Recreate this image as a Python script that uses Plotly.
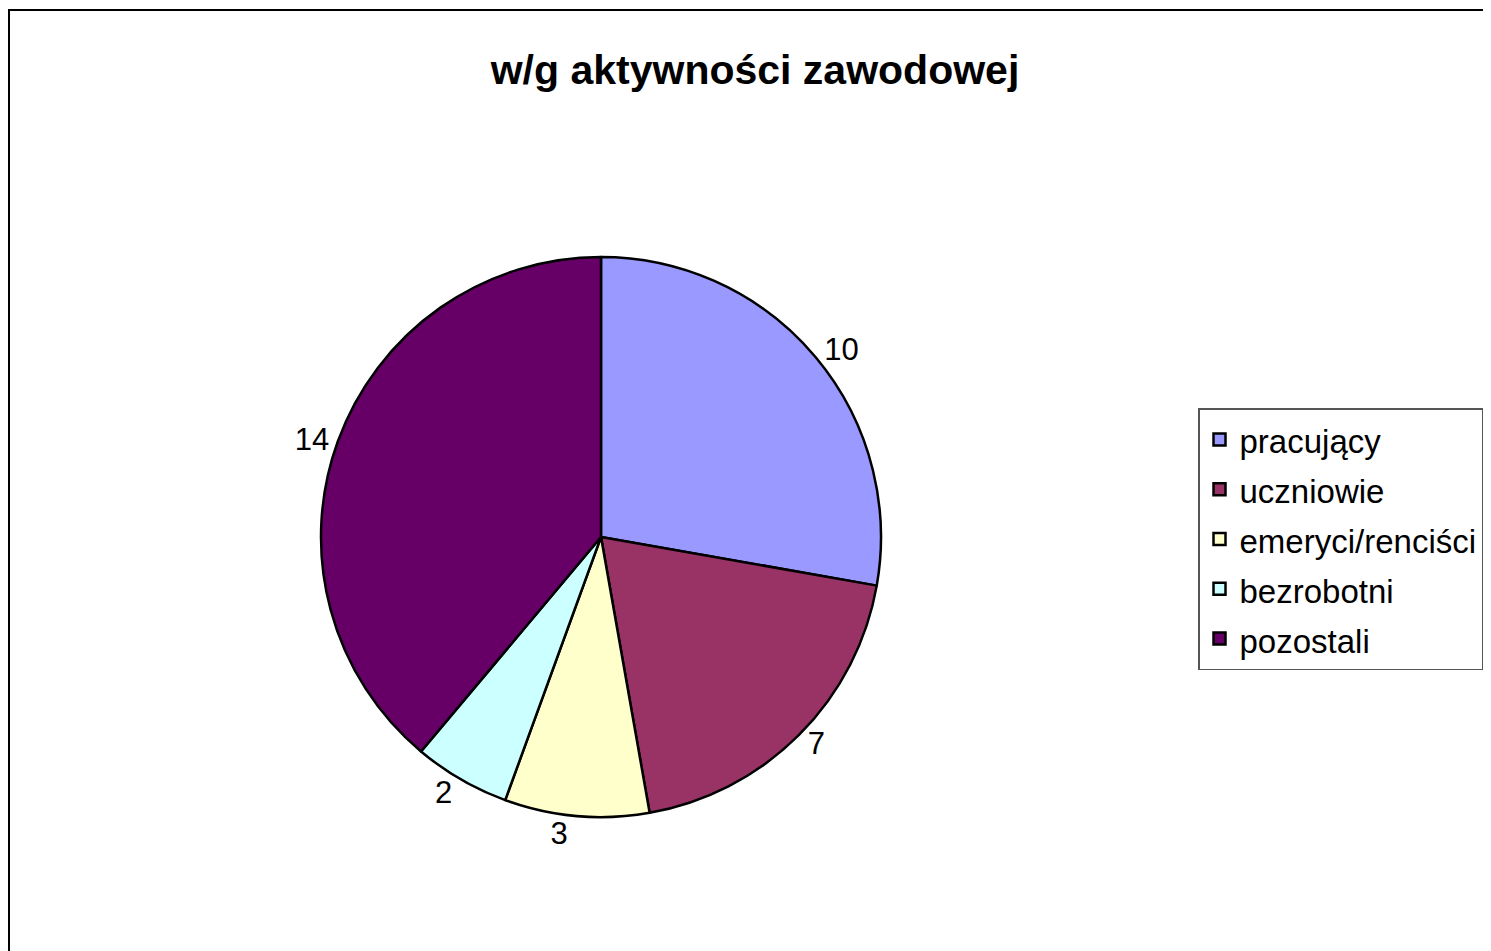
import plotly.graph_objects as go

title_text = "w/g aktywności zawodowej"
categories = ["pracujący", "uczniowie", "emeryci/renciści", "bezrobotni", "pozostali"]
values = [10, 7, 3, 2, 14]
colors = ["#9999FF", "#993366", "#FFFFCC", "#CCFFFF", "#660066"]

W, H = 1491, 951

legend_labels = ['<span style="font-size:33px">' + c + '</span>' for c in categories]

fig = go.Figure(go.Pie(
    labels=legend_labels,
    values=values,
    sort=False,
    direction="clockwise",
    rotation=0,
    marker=dict(colors=colors, line=dict(color="black", width=2.5)),
    textinfo="value",
    textposition="outside",
    outsidetextfont=dict(family="Liberation Sans, Arial", size=31, color="black"),
    domain=dict(x=[313 / W, 873 / W], y=[1 - 809 / H, 1 - 249 / H]),
    hovertemplate="%{value}<extra></extra>",
))

fig.update_layout(
    width=W, height=H,
    margin=dict(l=0, r=0, t=0, b=0),
    paper_bgcolor="white",
    plot_bgcolor="white",
    font=dict(family="Liberation Sans, Arial", color="black"),
    title=dict(text="<b>" + title_text + "</b>", x=747 / W, xanchor="center",
               y=1 - 62 / H, yanchor="middle",
               font=dict(family="Liberation Sans, Arial", size=41, color="black")),
    legend=dict(x=1190 / W, xanchor="left", y=1 - 400 / H, yanchor="top",
                bordercolor="#555555", borderwidth=1.5, bgcolor="white",
                font=dict(family="Liberation Sans, Arial", size=36, color="black"),
                itemwidth=30, tracegroupgap=0),
    shapes=[dict(type="rect", xref="paper", yref="paper",
                 x0=1 / W, x1=1.02, y0=-0.02, y1=1 - 2 / H,
                 line=dict(color="black", width=2))],
)

fig.write_html("out.html")
